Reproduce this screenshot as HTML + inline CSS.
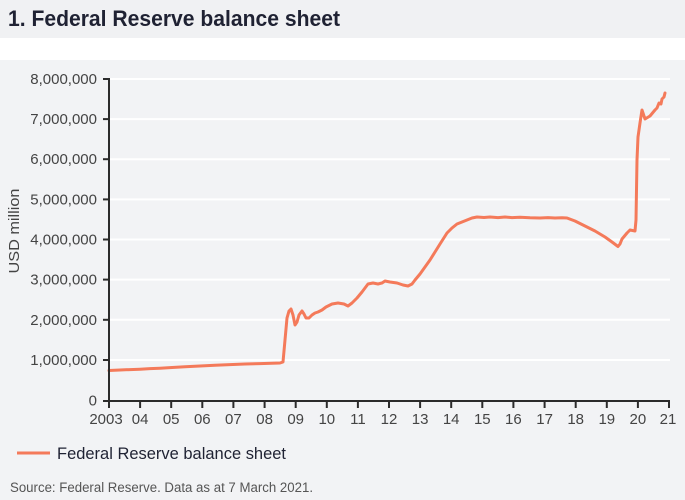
<!DOCTYPE html>
<html>
<head>
<meta charset="utf-8">
<style>
  html, body { margin: 0; padding: 0; }
  body { width: 685px; height: 500px; overflow: hidden; background: #f2f3f5; }
  svg { display: block; }
  text { font-family: "Liberation Sans", "DejaVu Sans", sans-serif; }
</style>
</head>
<body>
<svg width="685" height="500" viewBox="0 0 685 500" xmlns="http://www.w3.org/2000/svg">
  <!-- backgrounds -->
  <rect x="0" y="0" width="685" height="38" fill="#f0f1f3"/>
  <rect x="0" y="38" width="685" height="22" fill="#ffffff"/>
  <rect x="0" y="60" width="685" height="440" fill="#f2f3f5"/>

  <!-- title -->
  <text x="8" y="26" font-size="22" font-weight="bold" fill="#1f2233" textLength="332" lengthAdjust="spacingAndGlyphs">1. Federal Reserve balance sheet</text>

  <!-- gridlines -->
  <g stroke="#ffffff" stroke-width="2">
    <line x1="110" y1="79" x2="670" y2="79"/>
    <line x1="110" y1="119.1" x2="670" y2="119.1"/>
    <line x1="110" y1="159.2" x2="670" y2="159.2"/>
    <line x1="110" y1="199.4" x2="670" y2="199.4"/>
    <line x1="110" y1="239.5" x2="670" y2="239.5"/>
    <line x1="110" y1="279.6" x2="670" y2="279.6"/>
    <line x1="110" y1="319.8" x2="670" y2="319.8"/>
    <line x1="110" y1="360" x2="670" y2="360"/>
  </g>

  <!-- y axis label -->
  <text x="0" y="0" font-size="15" fill="#444" text-anchor="middle" transform="translate(19,231) rotate(-90)" textLength="85" lengthAdjust="spacingAndGlyphs">USD million</text>

  <!-- y tick labels -->
  <g font-size="15" fill="#444" text-anchor="end">
    <text x="97" y="84">8,000,000</text>
    <text x="97" y="124">7,000,000</text>
    <text x="97" y="164">6,000,000</text>
    <text x="97" y="204.5">5,000,000</text>
    <text x="97" y="244.5">4,000,000</text>
    <text x="97" y="284.5">3,000,000</text>
    <text x="97" y="325">2,000,000</text>
    <text x="97" y="365">1,000,000</text>
    <text x="97" y="405.5">0</text>
  </g>

  <!-- series -->
  <polyline fill="none" stroke="#f47a5a" stroke-width="3" stroke-linejoin="round" stroke-linecap="round"
    points="109,370.5 120,370 130,369.6 140,369.2 150,368.6 160,368.2 170,367.6 185,366.8 200,366 215,365.2 230,364.6 245,364 260,363.6 272,363.2 280,363 283,362 285,340 287,318 289,311 291,309 293,315 295,325 297,322 299,315 302,311 304,314 306,318 309,318 312,315 315,313 318,312 322,310 326,307 332,304 338,303 344,304 348,306 352,303 357,298 362,292 368,284 373,283 378,284 382,283 385,281 390,282 397,283 403,285 408,286 412,284 415,280 420,274 425,267 430,260 435,252 440,244 447,233 452,228 457,224 462,222 467,220 472,218 477,217 484,217.5 490,217 498,217.6 505,217 512,217.6 520,217.3 530,217.8 540,218 548,217.6 555,218 562,217.8 567,218 575,221 585,226 595,231 605,237 612,242 618,246.5 620,244 622,239 627,233 630,230 635,231 636,220 637,160 638,137 640,123 642,110 645,119 650,116 655,110 657,108 659,103 661,104 662,99 664,97 665,93"/>

  <!-- axes -->
  <g stroke="#2b2b2b" stroke-width="2" fill="none">
    <line x1="109" y1="78" x2="109" y2="401"/>
    <line x1="108" y1="401" x2="670" y2="401"/>
    <!-- y ticks -->
    <line x1="103" y1="79" x2="109" y2="79"/>
    <line x1="103" y1="119.1" x2="109" y2="119.1"/>
    <line x1="103" y1="159.2" x2="109" y2="159.2"/>
    <line x1="103" y1="199.4" x2="109" y2="199.4"/>
    <line x1="103" y1="239.5" x2="109" y2="239.5"/>
    <line x1="103" y1="279.6" x2="109" y2="279.6"/>
    <line x1="103" y1="319.8" x2="109" y2="319.8"/>
    <line x1="103" y1="360" x2="109" y2="360"/>
    <line x1="103" y1="401" x2="109" y2="401"/>
    <!-- x ticks -->
    <line x1="109" y1="400" x2="109" y2="408"/>
    <line x1="140.1" y1="400" x2="140.1" y2="408"/>
    <line x1="171.2" y1="400" x2="171.2" y2="408"/>
    <line x1="202.3" y1="400" x2="202.3" y2="408"/>
    <line x1="233.4" y1="400" x2="233.4" y2="408"/>
    <line x1="264.6" y1="400" x2="264.6" y2="408"/>
    <line x1="295.7" y1="400" x2="295.7" y2="408"/>
    <line x1="326.8" y1="400" x2="326.8" y2="408"/>
    <line x1="357.9" y1="400" x2="357.9" y2="408"/>
    <line x1="389" y1="400" x2="389" y2="408"/>
    <line x1="420.1" y1="400" x2="420.1" y2="408"/>
    <line x1="451.2" y1="400" x2="451.2" y2="408"/>
    <line x1="482.3" y1="400" x2="482.3" y2="408"/>
    <line x1="513.4" y1="400" x2="513.4" y2="408"/>
    <line x1="544.6" y1="400" x2="544.6" y2="408"/>
    <line x1="575.7" y1="400" x2="575.7" y2="408"/>
    <line x1="606.8" y1="400" x2="606.8" y2="408"/>
    <line x1="637.9" y1="400" x2="637.9" y2="408"/>
    <line x1="669" y1="400" x2="669" y2="408"/>
  </g>

  <!-- x tick labels -->
  <g font-size="15" fill="#444" text-anchor="middle">
    <text x="106" y="424">2003</text>
    <text x="140.1" y="424">04</text>
    <text x="171.2" y="424">05</text>
    <text x="202.3" y="424">06</text>
    <text x="233.4" y="424">07</text>
    <text x="264.6" y="424">08</text>
    <text x="295.7" y="424">09</text>
    <text x="326.8" y="424">10</text>
    <text x="357.9" y="424">11</text>
    <text x="389" y="424">12</text>
    <text x="420.1" y="424">13</text>
    <text x="451.2" y="424">14</text>
    <text x="482.3" y="424">15</text>
    <text x="513.4" y="424">16</text>
    <text x="544.6" y="424">17</text>
    <text x="575.7" y="424">18</text>
    <text x="606.8" y="424">19</text>
    <text x="637.9" y="424">20</text>
    <text x="668" y="424">21</text>
  </g>

  <!-- legend -->
  <line x1="17" y1="453" x2="50" y2="453" stroke="#f47a5a" stroke-width="3"/>
  <text x="57" y="459" font-size="17" fill="#1f2233" textLength="229" lengthAdjust="spacingAndGlyphs">Federal Reserve balance sheet</text>

  <!-- source -->
  <text x="10" y="492" font-size="13.5" fill="#555" textLength="303" lengthAdjust="spacingAndGlyphs">Source: Federal Reserve. Data as at 7 March 2021.</text>
</svg>
</body>
</html>
